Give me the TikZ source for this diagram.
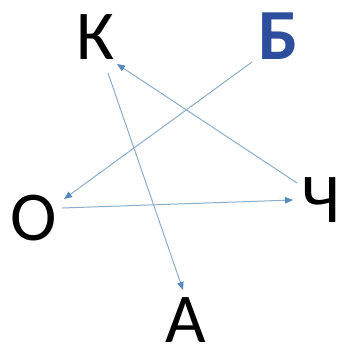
\documentclass[tikz,border=0pt]{standalone}
\usepackage{fontspec}
\setmainfont{Carlito}
\usetikzlibrary{arrows.meta}
\definecolor{arrline}{RGB}{140,172,202}
\definecolor{arrtip}{RGB}{85,138,188}
\definecolor{bblue}{RGB}{44,78,156}
\begin{document}
\begin{tikzpicture}[x=1pt,y=-1pt,
  letter/.style={inner sep=0pt,font=\fontsize{70}{70}\selectfont},
  conn/.style={draw=arrline,line width=1pt,-{Triangle[length=8pt,width=6.5pt,fill=arrtip,color=arrtip]}}]
\useasboundingbox (0,0) rectangle (343,350);
\node[letter,anchor=base] (K) at (96,60) {К};
\node[letter,anchor=base,text=bblue,font=\fontsize{72}{72}\selectfont\bfseries] (B) at (278,60) {Б};
\node[letter,anchor=base] (O) at (34,240) {О};
\node[letter,anchor=base] (Ch) at (321,222) {Ч};
\node[letter,anchor=base] (A) at (186,342) {А};
\coordinate (Kout) at (108,73);
\coordinate (Ain) at (183,290);
\coordinate (Chout) at (297,183);
\coordinate (Kin) at (117,64);
\coordinate (Bout) at (252,62);
\coordinate (Oin) at (64,199);
\coordinate (Oout) at (62,208);
\coordinate (Chin) at (293,200);
\path[conn] (Kout) -- (Ain);
\path[conn] (Chout) -- (Kin);
\path[conn] (Bout) -- (Oin);
\path[conn] (Oout) -- (Chin);
\end{tikzpicture}
\end{document}
